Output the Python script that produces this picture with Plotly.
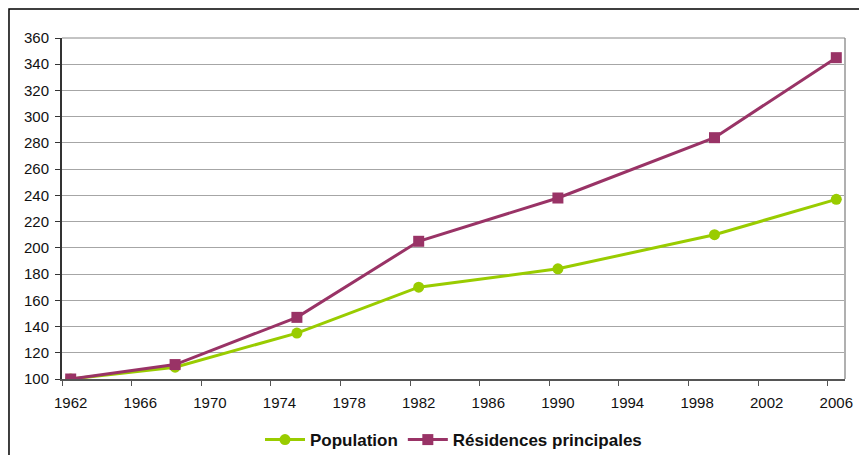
import plotly.graph_objects as go

years = [1962, 1968, 1975, 1982, 1990, 1999, 2006]
population = [100, 109, 135, 170, 184, 210, 237]
residences = [100, 111, 147, 205, 238, 284, 345]
x_ticks = list(range(1962, 2007, 4))
y_ticks = list(range(100, 361, 20))

fig = go.Figure()
fig.add_trace(go.Scatter(x=years, y=population, name="Population", mode="lines+markers",
                         line=dict(color="#99CC00", width=3),
                         marker=dict(symbol="circle", size=11, color="#99CC00")))
fig.add_trace(go.Scatter(x=years, y=residences, name="Résidences principales", mode="lines+markers",
                         line=dict(color="#993366", width=3),
                         marker=dict(symbol="square", size=11, color="#993366")))

# page body has an 8px margin, so margins are shifted to compensate
fig.update_layout(
    width=867, height=455,
    margin=dict(l=54, r=30, t=30, b=84, autoexpand=False),
    paper_bgcolor="white", plot_bgcolor="white",
    font=dict(family="Liberation Sans, Arial", size=15, color="#111"),
    showlegend=True,
    legend=dict(orientation="h", x=0.5, xanchor="center", y=-0.179, yanchor="middle",
                font=dict(size=17, color="#111", weight="bold"), itemwidth=40),
    xaxis=dict(range=[1961.5, 2006.5], tickvals=x_ticks, ticks="", showgrid=False,
               ticklabelstandoff=9,
               showline=True, linecolor="#555", linewidth=2, zeroline=False, automargin=False,
               minor=dict(tickvals=[v - 0.5 for v in x_ticks], ticks="outside", ticklen=5,
                          tickcolor="#555", showgrid=False)),
    yaxis=dict(range=[100, 360], tickvals=y_ticks, ticks="outside", ticklen=5, tickcolor="#333",
               ticklabelstandoff=3,
               showgrid=True, gridcolor="#a6a6a6", gridwidth=1, automargin=False,
               showline=True, linecolor="#333", linewidth=2, zeroline=False),
    shapes=[
        dict(type="line", xref="paper", yref="paper", x0=1, x1=1, y0=0, y1=1,
             line=dict(color="#b0b0b0", width=2)),
        dict(type="line", xref="paper", yref="paper", x0=0, x1=1, y0=1, y1=1,
             line=dict(color="#888", width=1)),
        dict(type="rect", xref="paper", yref="paper", x0=-0.0677, x1=1.2, y0=-0.5, y1=1.085,
             line=dict(color="black", width=1.5)),
    ],
)

fig.write_html("out.html")
